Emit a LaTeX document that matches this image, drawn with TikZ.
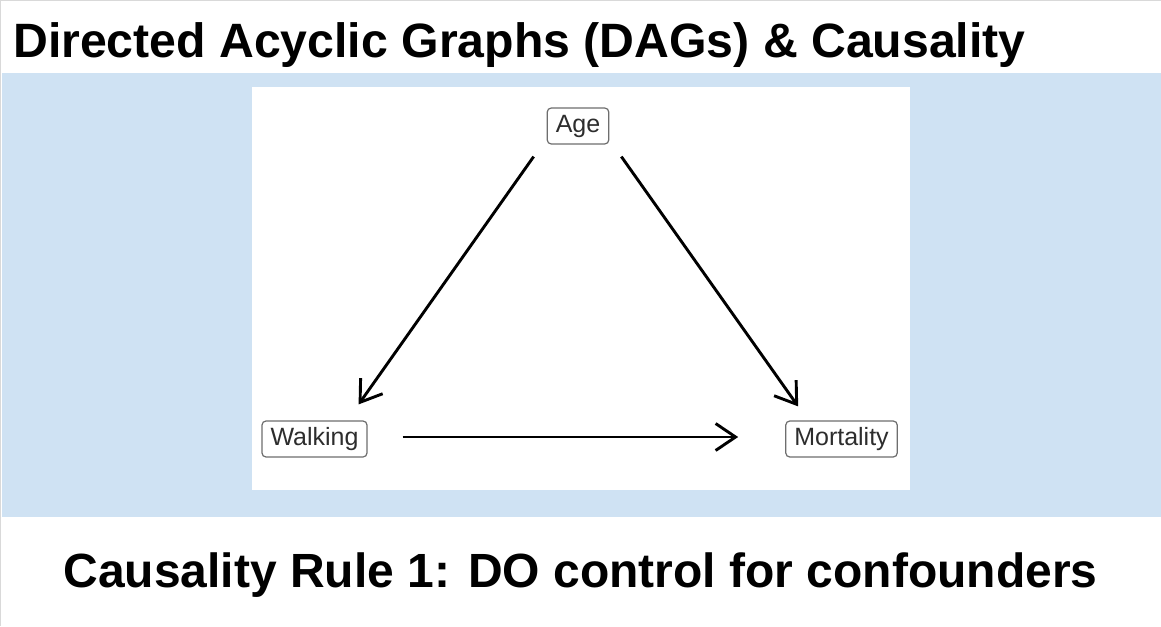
\documentclass[tikz,border=0pt]{standalone}
\usepackage{fontspec}
\setmainfont{Liberation Sans}
\usetikzlibrary{arrows.meta,calc}
\definecolor{dagBandBlue}{RGB}{207,226,243}
\definecolor{dagBoxGray}{RGB}{110,110,110}
\definecolor{dagTextGray}{RGB}{45,45,45}
\begin{document}
\begin{tikzpicture}[
    x=1pt, y=-1pt,
    dagNodeStyle/.style={draw=dagBoxGray, line width=1.2pt, rounded corners=4pt,
        fill=white, text=dagTextGray, font=\fontsize{25}{25}\selectfont,
        inner xsep=8.5pt, minimum height=36pt},
    dagArrowStyle/.style={line width=2.9pt, -{Straight Barb[length=20pt, width=27pt]}},
    dagTitleStyle/.style={font=\fontsize{48.2}{49}\bfseries\selectfont, inner sep=0pt},
    dagRuleStyle/.style={font=\fontsize{48}{49}\bfseries\selectfont, inner sep=0pt}
]
    % --- Hintergrund ---
    \useasboundingbox (0,0) rectangle (1161,626);
    \fill[white] (0,0) rectangle (1161,626);
    \fill[dagBandBlue] (2,73) rectangle (1161,517);
    \fill[white] (252,87) rectangle (910,490);
    \draw[gray!30, line width=1pt] (0.5,626) -- (0.5,0.5) -- (1161,0.5);

    % Titel
    \node[dagTitleStyle, anchor=base west] (title) at (13,58)
        {Directed Acyclic Graphs (DAGs) \& Causality};

    % --- DAG ---
    \node[dagNodeStyle] (age) at (578,126) {Age};
    \node[dagNodeStyle] (walking) at (314.5,439) {Walking};
    \node[dagNodeStyle] (mortality) at (841.5,439) {Mortality};

    \draw[dagArrowStyle] ($(age.south west)+(-13,12)$) -- ($(walking.north east)+(-9,-16)$);
    \draw[dagArrowStyle] ($(age.south east)+(12,12)$) -- ($(mortality.north west)+(13,-14)$);
    \draw[dagArrowStyle] ($(walking.east)+(35,-2)$) -- ($(mortality.west)+(-47,-2)$);

    % Regel
    \node[dagRuleStyle, anchor=base] (rule) at (580.5,587)
        {Causality Rule 1: DO control for confounders};
\end{tikzpicture}
\end{document}
